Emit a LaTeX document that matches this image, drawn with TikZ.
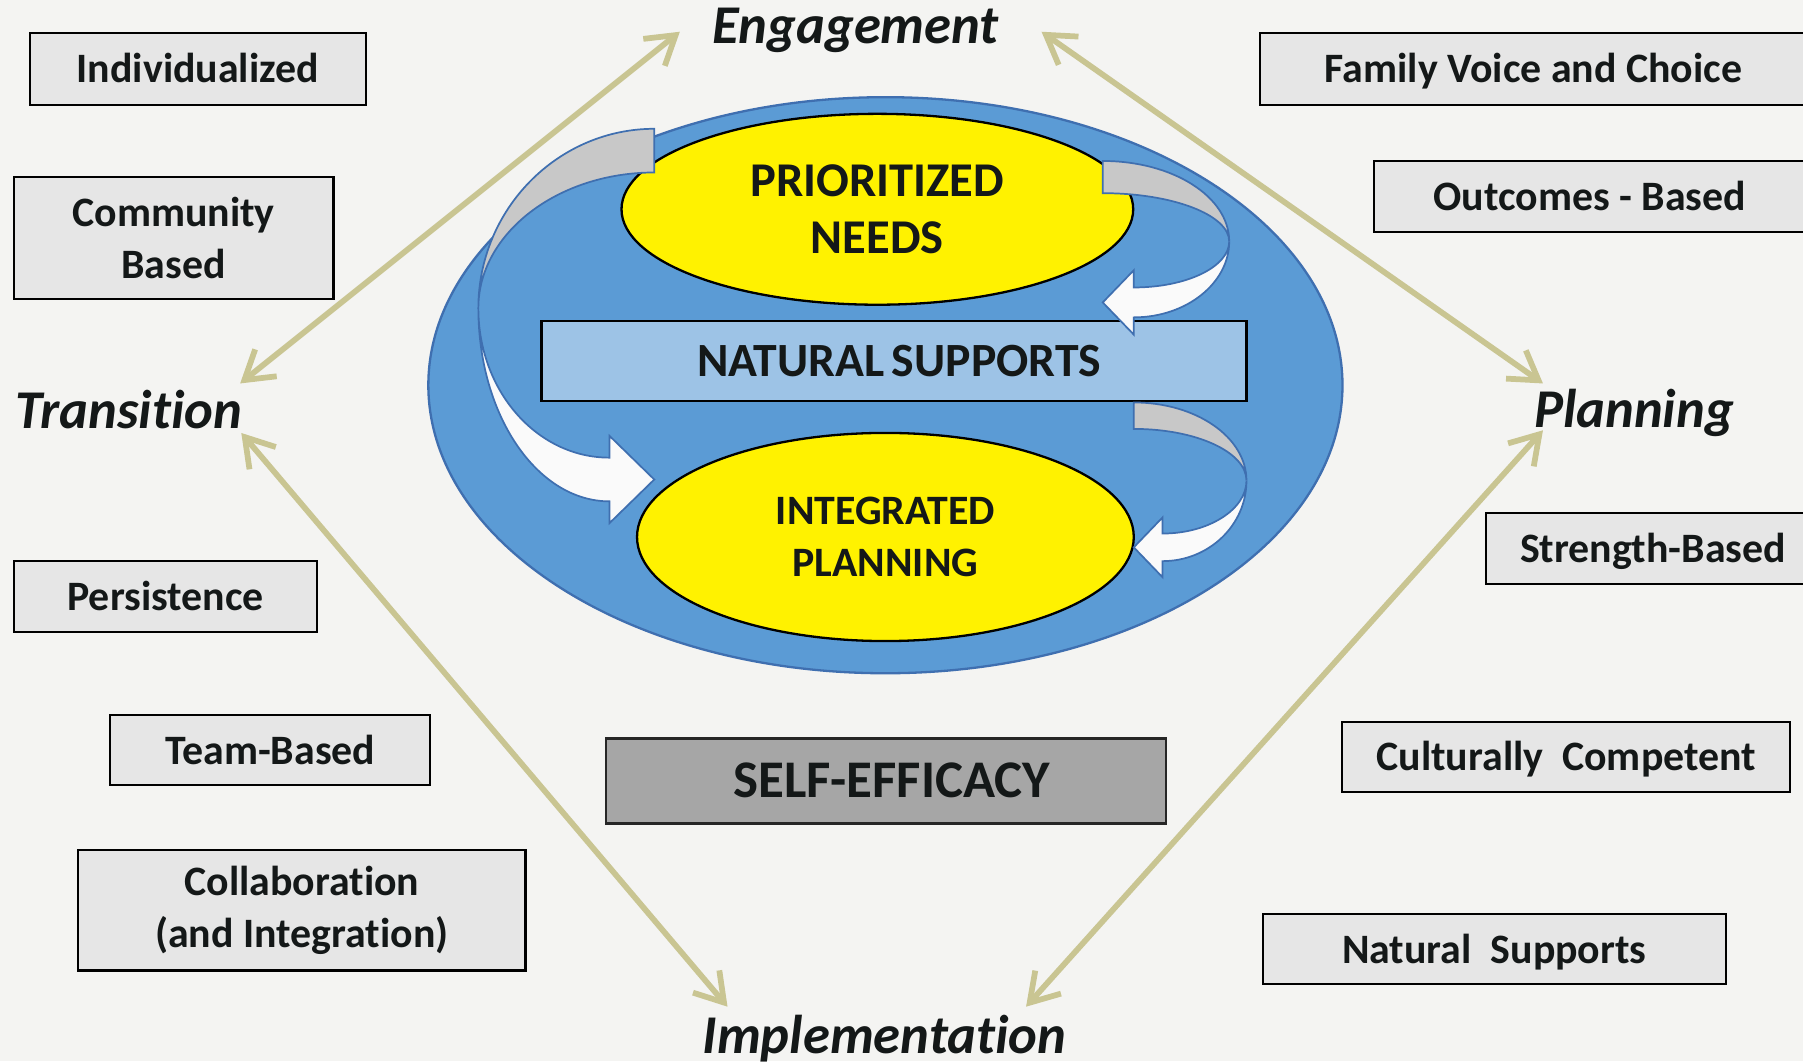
\documentclass[tikz,border=0pt]{standalone}
\usepackage{fontspec}
\setmainfont{Carlito}[Ligatures=NoCommon]
\usepackage{xcolor}
\usetikzlibrary{shapes.geometric, arrows.meta, positioning}

\definecolor{pagebg}{HTML}{F4F4F2}
\definecolor{boxgray}{HTML}{E6E6E6}
\definecolor{ovalblue}{HTML}{5B9BD5}
\definecolor{ovaledge}{HTML}{3F6FB0}
\definecolor{bandblue}{HTML}{9DC3E6}
\definecolor{efficacygray}{HTML}{A6A6A6}
\definecolor{linkgold}{HTML}{C9C592}
\definecolor{ribbongray}{HTML}{C8C8C8}
\definecolor{ribbonwhite}{HTML}{FAFAFA}
\definecolor{ink}{HTML}{141818}

\newcommand{\boxfont}{\fontsize{36.4}{45}\selectfont\bfseries}
\newcommand{\stagefont}{\fontsize{47.5}{50}\selectfont\bfseries\itshape}

\tikzset{
  trait/.style={draw=black, line width=1.8pt, fill=boxgray, text=ink, font=\boxfont,
    align=center, inner sep=0pt, minimum height=62pt},
  oneline/.style={trait, text height=24pt, text depth=0pt},
  stage/.style={font=\stagefont, text=ink, inner sep=0pt, anchor=base},
  core/.style={ellipse, draw=black, line width=2pt, fill=yellow, text=ink,
    align=center, inner sep=0pt},
  link/.style={draw=linkgold, line width=5pt, <->,
    >={Straight Barb[length=24pt, width=30pt]}},
  ribbonback/.style={fill=ribbongray, draw=ovaledge, line width=1.5pt},
  ribbonfront/.style={fill=ribbonwhite, draw=ovaledge, line width=1.5pt},
}

\begin{document}
\begin{tikzpicture}[x=1pt, y=-1pt]
  \fill[pagebg] (0,0) rectangle (1568,923);
  \clip (0,0) rectangle (1568,923);

  % centre of the cycle
  \node[ellipse, draw=ovaledge, line width=2pt, fill=ovalblue, inner sep=0pt,
    minimum width=795pt, minimum height=501pt] (oval) at (770,335) {};
  \node[core, minimum width=445pt, minimum height=166pt,
    font=\fontsize{42.2}{50}\selectfont\bfseries] (needs) at (763,182) {PRIORITIZED\\NEEDS};
  \node[core, minimum width=432pt, minimum height=181pt,
    font=\fontsize{36.4}{45}\selectfont\bfseries] (integ) at (770,467) {INTEGRATED\\PLANNING};
  \node[draw=black, line width=2pt, fill=bandblue, inner sep=0pt, text=ink,
    minimum width=613pt, minimum height=70pt,
    font=\fontsize{41.5}{44}\selectfont\bfseries] (natsup) at (777.5,314)
    {\hspace*{9pt}NATURAL\hspace{-3pt} SUPPORTS};

  % curved arrows
  \draw[ribbonback] (569,112) .. controls (485,112) and (416,182) .. (416,268)
    .. controls (416,203) and (485,150) .. (569,150) -- cycle;
  \draw[ribbonfront] (416,268) .. controls (416,361) and (467,436) .. (530,436)
    -- (530,455) -- (569,417) -- (530,379) -- (530,398)
    .. controls (467,398) and (416,340) .. (416,268) -- cycle;
  \draw[ribbonback] (959,140) .. controls (1020,140) and (1069,171) .. (1069,210)
    .. controls (1069,187) and (1020,168) .. (959,168) -- cycle;
  \draw[ribbonfront] (1069,210) .. controls (1069,246) and (1032,276) .. (986,276)
    -- (986,291) -- (959,263) -- (986,235) -- (986,250)
    .. controls (1032,250) and (1069,232) .. (1069,210) -- cycle;
  \draw[ribbonback] (986,350) .. controls (1040,350) and (1084,380) .. (1084,418)
    .. controls (1084,393) and (1040,373) .. (986,373) -- cycle;
  \draw[ribbonfront] (1084,418) .. controls (1084,457) and (1051,488) .. (1011,488)
    -- (1011,502) -- (986,476) -- (1011,450) -- (1011,464)
    .. controls (1051,464) and (1084,443) .. (1084,418) -- cycle;

  \node[draw=black!85, line width=2.5pt, fill=efficacygray, inner sep=0pt, text=ink,
    minimum width=487pt, minimum height=74pt,
    font=\fontsize{46}{50}\selectfont\bfseries] (self) at (770.5,679)
    {\hspace*{10pt}SELF-EFFICACY};

  % left column
  \node[oneline, minimum width=292pt] (indiv) at (172,60) {Individualized};
  \node[trait, minimum width=278pt, minimum height=106pt] (commun) at (151,207) {Community\\Based};
  \node[oneline, minimum width=264pt] (persist) at (144,519) {Persistence};
  \node[oneline, minimum width=278pt, minimum height=61pt] (team) at (235,652.5) {Team-Based};
  \node[trait, minimum width=389pt, minimum height=105pt] (collab) at (262.5,791.5) {Collaboration\\(and Integration)};

  % right column
  \node[oneline, minimum width=475pt] (family) at (1333.5,60) {Family Voice and Choice};
  \node[oneline, minimum width=375pt] (outcome) at (1382.5,171) {Outcomes - Based};
  \node[oneline, minimum width=291pt] (strength) at (1437.5,477) {Strength-Based};
  \node[oneline, minimum width=390pt, minimum height=61pt] (culture) at (1362,658.5) {Culturally~~Competent};
  \node[oneline, minimum width=403pt, minimum height=61pt] (natural) at (1299.5,825.5) {Natural~~Supports};

  % stages
  \node[stage] (eng) at (744,38) {Engagement};
  \node[stage] (trans) at (112,373) {Transition};
  \node[stage] (plan) at (1421,372) {Planning};
  \node[stage] (impl) at (769,916) {Implementation};

  \draw[link] ([shift={(-28,1)}]eng.west) -- ([shift={(-2,-6)}]trans.north east);
  \draw[link] ([shift={(37,1)}]eng.east) -- ([shift={(8,-5)}]plan.north west);
  \draw[link] ([shift={(-1,3)}]trans.south east) -- ([shift={(22,-7)}]impl.north west);
  \draw[link] ([shift={(8,-6)}]plan.south west) -- ([shift={(-35,-7)}]impl.north east);
\end{tikzpicture}
\end{document}
